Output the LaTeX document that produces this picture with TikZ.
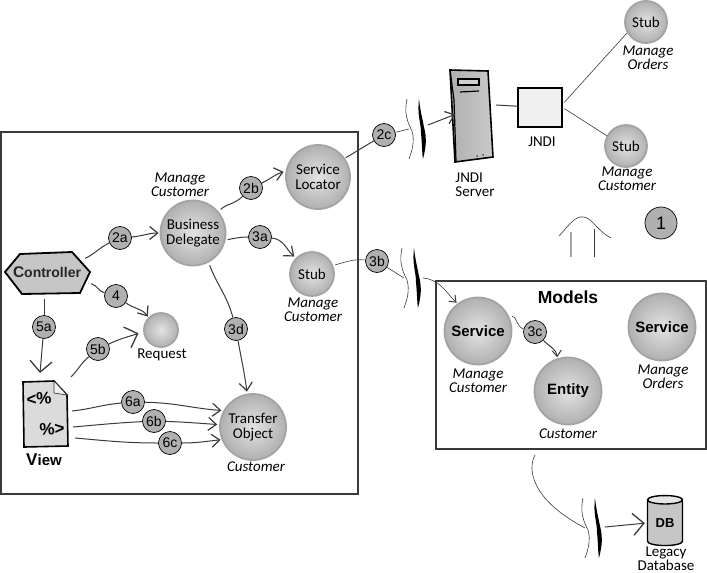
\documentclass[tikz,border=0pt]{standalone}
\usepackage{fontspec}
\setmainfont{Carlito}
\setsansfont{Liberation Sans}
\usepackage{xcolor}
\usetikzlibrary{arrows.meta,calc,shapes.geometric}
\definecolor{ink}{HTML}{3A3A3A}
\definecolor{tagfill}{HTML}{B0B0B0}
\tikzset{
  orb/.style   ={circle, draw=gray!72, line width=1.8pt, inner sep=0pt, align=center,
                 inner color=gray!22, outer color=gray!62, font=\fontsize{15}{15}\selectfont},
  tag/.style   ={circle, draw=black, fill=tagfill, line width=0.7pt, minimum size=23pt,
                 inner sep=0pt, font=\sffamily\fontsize{14}{14}\selectfont},
  wire/.style  ={draw=ink, line width=1pt},
  thin wire/.style={draw=ink, line width=0.6pt},
  arr/.style   ={wire, -{Straight Barb[length=8pt,width=13pt,line width=1.2pt]}},
  big arr/.style={wire, -{Straight Barb[length=11pt,width=22pt,line width=1.3pt]}},
  small arr/.style={-{Straight Barb[length=6pt,width=9pt,line width=1pt]}},
  frame/.style ={draw=ink, line width=1.6pt},
  hand/.style  ={align=center, inner sep=0pt, font=\fontsize{15}{14}\selectfont},
  handit/.style={hand, font=\itshape\fontsize{15}{14}\selectfont},
  boldlab/.style={align=center, inner sep=0pt, font=\sffamily\bfseries\fontsize{15}{15}\selectfont},
}
% the broken network link: thin wave, then black tapered stroke
\newcommand{\netcut}[3]{%
  \begin{scope}[shift={(#1,#2)}]
    \draw[line width=0.6pt,draw=ink] (-12,0) .. controls (-15,14) and (-12,22) .. (-7,32)
       .. controls (-4,42) and (-7,52) .. (-10,60);
    \fill[black] (0,0) .. controls (-2,16) and (2,24) .. (2,34) .. controls (3,44) and (3,54) .. (4,60)
       .. controls (7,48) and (8,40) .. (5,28) .. controls (3,18) and (1,10) .. (0,0);
    \coordinate (#3in) at (-10,30);
    \coordinate (#3out) at (9,26);
  \end{scope}}
\def\orblist{%
  loc/318/177/64/{Service\\Locator},
  bd/193/233/65/{Business\\Delegate},
  stA/312/274/44/Stub,
  req/161/330/34/{},
  to/253/427/66/{Transfer\\Object},
  stO/646/22/42/Stub,
  stC/626/146/42/Stub}
\def\taglist{%
  t2a/120/238/2a, t2b/251/188/2b, t3a/260/237/3a, t4/116/296/4, t5a/44/327/5a,
  t5b/98/349/5b, t3d/236/329/3d, t6a/133/402/6a, t6b/154/421/6b, t6c/170/443/6c,
  t2c/384/135/2c, t3b/377/261/3b, t3c/535/332/3c}
\begin{document}
\begin{tikzpicture}[x=1pt,y=-1pt]
\useasboundingbox (0,0) rectangle (707,573);
% --- frames ---
\draw[frame] (1,132) rectangle (358,494);
\draw[frame] (436,281) rectangle (706,449);
\node[boldlab,font=\sffamily\bfseries\fontsize{17.5}{17}\selectfont] (models) at (568,297) {Models};
% --- orbs ---
\foreach \n/\x/\y/\d/\lab in \orblist {\node[orb,minimum size=\d pt] (\n) at (\x,\y) {\lab};}
\foreach \n/\x/\y/\lab in {svA/478/331/Service, ent/568/391/Entity, svB/662/327/Service}
  {\node[orb,minimum size=67pt,font=\sffamily\bfseries\fontsize{15}{15}\selectfont] (\n) at (\x,\y) {\lab};}
% --- controller ---
\fill[gray!45,draw=black,line width=1.8pt] (5,272) -- (20,254) -- (72,252) -- (90,272) -- (80,293) -- (22,294) -- cycle;
\node[inner sep=0pt,font=\sffamily\bfseries\fontsize{14}{14}\selectfont,text=black!85] (ctrl) at (47,272) {{\fontsize{15.5}{15}\selectfont C}ontroller};
% --- view page ---
\fill[gray!28,draw=black,line width=1.6pt] (23,382) -- (54,381) -- (67,395) -- (68,446) -- (24,447) -- cycle;
\draw[line width=0.7pt,draw=ink,fill=gray!12] (54,381) -- (54,393) -- (67,395) -- cycle;
\node[inner sep=0pt,font=\sffamily\bfseries\fontsize{17}{17}\selectfont,rotate=3] (pgA) at (39,399) {<\%};
\node[inner sep=0pt,font=\sffamily\bfseries\fontsize{17}{17}\selectfont,rotate=3] (pgB) at (52,429) {\%>};
\node[boldlab] (viewlab) at (44,460) {{\fontsize{17}{17}\selectfont V}iew};
% --- server and jndi ---
\fill[left color=gray!62,right color=gray!42,draw=black,line width=1.6pt] (450,70) -- (488,71) -- (493,157) -- (455,162) -- cycle;
\draw[line width=1.2pt] (450,70) -- (454,100) -- (456,161);
\fill[gray!35,draw=black,line width=1.2pt] (458,79) rectangle (479,85);
\draw[line width=1.2pt] (460,92) -- (479,91);
\fill[black!70] (477,156) circle (1pt) (483,155) circle (1pt);
\coordinate (server) at (456,114);
\coordinate (serverR) at (496,105);
\node[draw=black,fill=gray!12,line width=1.5pt,minimum width=44pt,minimum height=39pt,inner sep=0pt] (jndi) at (540,107.5) {};
% --- db ---
\node[cylinder,shape border rotate=90,aspect=0.45,draw=black,line width=1.4pt,
      minimum width=35pt,minimum height=50pt,inner sep=0pt,cylinder uses custom fill,
      cylinder body fill=gray!45,cylinder end fill=gray!20,font=\sffamily\bfseries\fontsize{13}{13}\selectfont] (db) at (665,523) {DB};
% --- breaks ---
\netcut{419}{99}{cutS}
\netcut{414}{248}{cutM}
\netcut{595}{498}{cutD}
% --- tags ---
\foreach \n/\x/\y/\lab in \taglist {\node[tag] (\n) at (\x,\y) {\lab};}
\node[tag,minimum size=32pt,font=\sffamily\fontsize{18}{18}\selectfont] (one) at (661,223) {1};
% --- connectors ---
\draw[wire] (ctrl.north east) ++(4,-8) to[out=25,in=205] (t2a);
\draw[arr,shorten >=1pt] (t2a) to[out=5,in=180] (bd);
\draw[wire,shorten <=3pt] (bd.40) to[out=45,in=225] (t2b);
\draw[arr,shorten >=2pt] (t2b) to[out=25,in=195] (loc.170);
\draw[wire,shorten <=2pt] (bd.-12) to[out=10,in=180] (t3a);
\draw[arr,shorten >=2pt] (t3a) to[out=-5,in=140] (stA.135);
\draw[wire] (ctrl.south east) ++(10,6) to[out=-15,in=165] (t4);
\draw[arr,shorten >=1pt] (t4) to[out=-35,in=125] (req.135);
\draw[wire] (ctrl.south) ++(-3,21) -- (t5a);
\coordinate (viewT) at (40,373);
\draw[big arr] (t5a) to[out=-95,in=85] (viewT);
\coordinate (viewR) at (71,377);
\draw[wire] (viewR) to[out=45,in=220] (t5b);
\draw[big arr,shorten >=5pt] (t5b) to[out=25,in=200] (req.185);
\draw[wire,shorten <=3pt] (bd.-62) to[out=-70,in=105] (t3d);
\draw[arr,shorten >=2pt] (t3d) to[out=-80,in=97] (to.100);
\coordinate (viewA) at (72,411);
\coordinate (viewB) at (73,427);
\coordinate (viewC) at (75,438);
\draw[wire] (viewA) to[out=6,in=185] (t6a);
\draw[arr,shorten >=2pt] (t6a) to[out=-1,in=176] (to.151);
\draw[wire] (viewB) to[out=5,in=183] (t6b);
\draw[arr,shorten >=2pt] (t6b) to[out=-2,in=176] (to.176);
\draw[wire] (viewC) to[out=-5,in=180] (t6c);
\draw[arr,shorten >=1pt] (t6c) to[out=0,in=186] (to.-158);
\draw[wire,shorten <=1pt] (loc.35) to[out=30,in=210] (t2c);
\draw[thin wire] (t2c) -- (cutSin);
\draw[arr,shorten >=1pt] (cutSout) -- (server);
\draw[wire] (serverR) -- (jndi);
\draw[thin wire,shorten <=2pt] (jndi.east) ++(0,-3.5) -- (stO.-150);
\draw[thin wire,shorten <=2pt] (jndi.east) -- (stC.152);
\draw[thin wire,shorten <=2pt] (stA.22) to[out=15,in=175] (t3b);
\draw[thin wire] (t3b) -- (cutMin);
\draw[thin wire,small arr,shorten >=1pt] (cutMout) ++(0,4) to[out=-5,in=135] (svA.127);
\draw[thin wire,shorten <=3pt] (svA.25) to[out=5,in=165] (t3c);
\draw[wire,small arr,shorten >=1pt] (t3c) to[out=-45,in=95] (ent.108);
\coordinate (modelsB) at (535,455);
\draw[thin wire] (modelsB) .. controls (527,470) and (532,500) .. (cutDin);
\draw[big arr,shorten >=2pt] (cutDout) ++(1,3) -- (db.west);
% --- up arrow (hand drawn) ---
\coordinate (hatL) at (559,236);
\coordinate (hatR) at (611,238);
\coordinate (shaftA) at (571,232);
\coordinate (shaftB) at (594,229);
\draw[thin wire] (hatL) .. controls (570,224) and (575,216) .. (583,217) .. controls (592,217) and (596,230) .. (hatR);
\draw[draw=gray!70,line width=1.4pt] (shaftA) -- (571,257);
\draw[thin wire] (shaftB) -- (594,257);
% --- texts ---
\node[handit] (lbd) at (180,185) {Manage\\Customer};
\node[hand] (lreq) at (162,355) {Request};
\node[handit] (lst) at (313,310) {Manage\\Customer};
\node[handit] (lto) at (256,467) {Customer};
\node[handit] (lstO) at (648,57.5) {Manage\\Orders};
\node[handit] (lstC) at (627,179) {Manage\\Customer};
\node[hand] (ljn) at (542,142) {JNDI};
\node[hand,align=left] (lsrv) at (475,185) {JNDI\\Server};
\node[handit] (lsvA) at (478,381) {Manage\\Customer};
\node[handit] (lent) at (568,434) {Customer};
\node[handit] (lsvB) at (663,376.5) {Manage\\Orders};
\node[hand] (ldb) at (666,558.5) {Legacy\\Database};
\end{tikzpicture}
\end{document}
